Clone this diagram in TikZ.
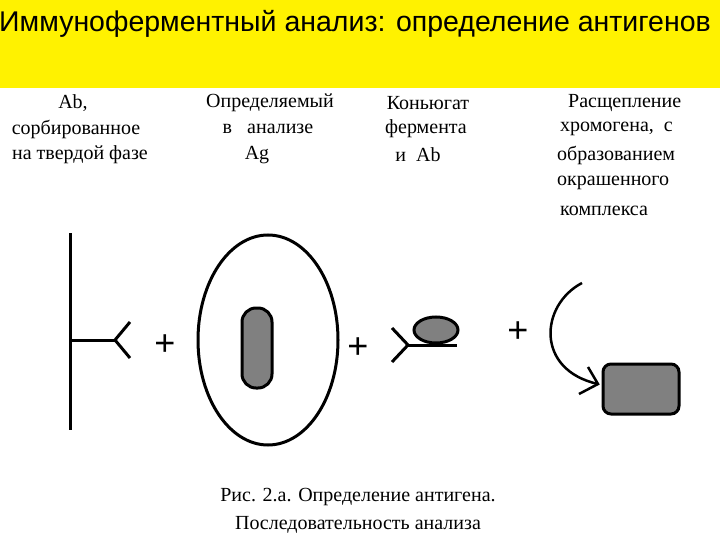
\documentclass[tikz,border=0pt]{standalone}
\usepackage{fontspec}
\usetikzlibrary{shapes.geometric}
\setmainfont{Liberation Serif}
\newfontfamily\arial{Liberation Sans}
\begin{document}
\begin{tikzpicture}[x=1pt,y=-1pt,
  lbl/.style={font=\fontsize{20}{22}\selectfont, inner sep=0pt},
  ln/.style={line width=3pt},
  gray/.style={fill=black!50, draw=black, line width=3pt},
  plus/.style={font=\arial\fontsize{36}{36}\selectfont, inner sep=0pt}]
\useasboundingbox (0,0) rectangle (720,540);
\fill[yellow] (0,0) rectangle (720,88);
\node[font=\arial\fontsize{28.5}{30}\selectfont, inner sep=0pt] (title) at (355,24) {Иммуноферментный анализ: определение антигенов};
% column labels
\node[lbl] (c1a) at (73,103) {Ab,};
\node[lbl] (c1b) at (76,129) {сорбированное};
\node[lbl] (c1c) at (80,155) {на твердой фазе};
\node[lbl] (c2a) at (270,103) {Определяемый};
\node[lbl] (c2b) at (268,129) {в \ \ анализе};
\node[lbl] (c2c) at (257,155) {Ag};
\node[lbl] (c3a) at (428,103) {Коньюгат};
\node[lbl] (c3b) at (426,129) {фермента};
\node[lbl] (c3c) at (418,155) {и \ Ab};
\node[lbl,anchor=west] (c4a) at (568,103) {Расщепление};
\node[lbl,anchor=west] (c4b) at (560,129) {хромогена, \ с};
\node[lbl,anchor=west] (c4c) at (557,155) {образованием};
\node[lbl,anchor=west] (c4d) at (557,183) {окрашенного};
\node[lbl,anchor=west] (c4e) at (560,211) {комплекса};
% solid phase with Ab
\draw[ln] (70,233) -- (70,430);
\draw[ln] (70,340) -- (115,340);
\draw[ln] (130,322) -- (115,340) -- (130,358);
\node[plus] (p1) at (165,345) {+};
% antigen
\draw[ln] (268,340) ellipse [x radius=70, y radius=105];
\node[gray, rounded corners=14pt, minimum width=30pt, minimum height=80pt] (ag) at (257,348) {};
\node[plus] (p2) at (358,348) {+};
% conjugate
\draw[ln] (392,328) -- (408,345) -- (392,362);
\node[gray, ellipse, minimum width=44pt, minimum height=26pt, inner sep=0pt] (enz) at (436,330) {};
\draw[ln] (408,345) -- (457,345);
\node[plus] (p3) at (518,332) {+};
% arrow
\draw[line width=2.5pt] (582,283) .. controls (540,305) and (535,370) .. (598,384);
\draw[line width=2.5pt] (588,367) -- (598,384) -- (579,394);
\node[gray, rounded corners=8pt, minimum width=76pt, minimum height=50pt] (prod) at (641,389) {};
% caption
\node[lbl] (cap1) at (358,497) {Рис. 2.а. Определение антигена.};
\node[lbl] (cap2) at (358,525) {Последовательность анализа};
\end{tikzpicture}
\end{document}
